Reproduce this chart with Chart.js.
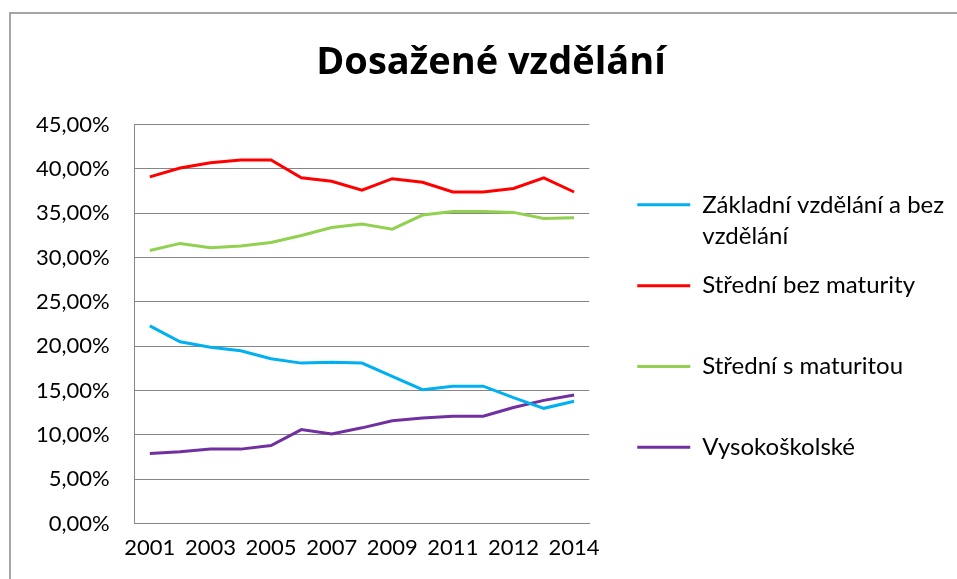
<!DOCTYPE html>
<html>
<head>
<meta charset="utf-8">
<script src="https://cdn.jsdelivr.net/npm/chart.js@4/dist/chart.umd.min.js"></script>
<style>
  html, body { margin: 0; padding: 0; background: #fff; overflow: hidden; }
  #frame { position: absolute; left: 9px; top: 12px; border-left: 2px solid #a6a6a6; border-top: 2px solid #a6a6a6; width: 960px; height: 570px; }
</style>
</head>
<body>
<div id="frame"><canvas id="graf" width="960" height="565"></canvas></div>
<script>
// roky (2011 je v datech dvakrat)
var roky = ['2001','2002','2003','2004','2005','2006','2007','2008','2009','2010','2011','2011','2012','2013','2014'];

var zakladni = [22.3, 20.5, 19.9, 19.5, 18.6, 18.1, 18.2, 18.1, 16.6, 15.1, 15.5, 15.5, 14.2, 13.0, 13.8];
var strednibez = [39.1, 40.1, 40.7, 41.0, 41.0, 39.0, 38.6, 37.6, 38.9, 38.5, 37.4, 37.4, 37.8, 39.0, 37.4];
var strednis = [30.8, 31.6, 31.1, 31.3, 31.7, 32.5, 33.4, 33.8, 33.2, 34.8, 35.2, 35.2, 35.1, 34.4, 34.5];
var vysoko = [7.9, 8.1, 8.4, 8.4, 8.8, 10.6, 10.1, 10.8, 11.6, 11.9, 12.1, 12.1, 13.1, 13.9, 14.5];

var nazvy = [['Základní vzdělání a bez', 'vzdělání'], ['Střední bez maturity', ''], ['Střední s maturitou', ''], ['Vysokoškolské', '']];
var barvy = ['#00B0F0', '#FF0000', '#92D050', '#7030A0'];
var hodnoty = [zakladni, strednibez, strednis, vysoko];

var pismo = 'Lato, "Open Sans", sans-serif';

// legenda vpravo od grafu, nadpis pres celou sirku
var rozlozeni = {
	id: 'rozlozeni',
	afterLayout: function(chart) {
		var l = chart.legend;
		l.left = chart.chartArea.right + 31;
		l.right = chart.width;
		l.width = l.right - l.left;
		l.top += 53;
		l.bottom += 53;
		var t = chart.titleBlock;
		t.left = 0;
		t.right = chart.width;
		t.width = chart.width;
	}
};

var datasets = [];
for (var i = 0; i < hodnoty.length; i++) {
	datasets.push({
		label: nazvy[i],
		data: hodnoty[i],
		borderColor: barvy[i],
		backgroundColor: barvy[i],
		borderWidth: 3,
		pointRadius: 0,
		pointStyle: 'line',
		tension: 0
	});
}

new Chart(document.getElementById('graf'), {
	type: 'line',
	data: { labels: roky, datasets: datasets },
	options: {
		responsive: false,
		animation: false,
		devicePixelRatio: 1,
		layout: { padding: { left: 0, right: 189, top: 0, bottom: 7 } },
		plugins: {
			title: {
				display: true,
				text: 'Dosažené vzdělání',
				color: '#000',
				font: { family: '"Open Sans", Lato, sans-serif', size: 38, weight: 'bold' },
				padding: { top: 26, bottom: 39 }
			},
			legend: {
				position: 'right',
				labels: {
					usePointStyle: true,
					pointStyleWidth: 53,
					color: '#000',
					font: { family: pismo, size: 24, lineHeight: 1.33 },
					padding: 17
				}
			},
			tooltip: { enabled: false }
		},
		scales: {
			x: {
				offset: true,
				grid: { display: false, drawTicks: false },
				border: { color: '#868686', width: 1 },
				ticks: {
					autoSkip: false,
					maxRotation: 0,
					color: '#000',
					font: { family: pismo, size: 22 },
					padding: 11,
					callback: function(v, idx) { return idx % 2 === 0 ? roky[idx] : ''; }
				}
			},
			y: {
				min: 0,
				max: 45,
				grid: { color: '#868686', drawTicks: false },
				border: { color: '#868686', width: 1 },
				ticks: {
					stepSize: 5,
					color: '#000',
					font: { family: pismo, size: 22 },
					padding: 25,
					callback: function(v) { return v.toFixed(2).replace('.', ',') + '%'; }
				}
			}
		}
	},
	plugins: [rozlozeni]
});
</script>
</body>
</html>
